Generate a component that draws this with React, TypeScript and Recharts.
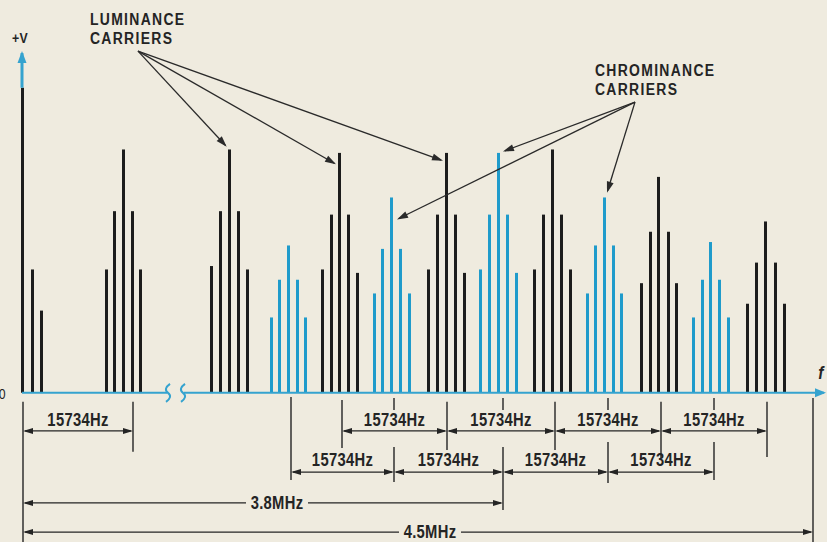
import React from "react";
import { ComposedChart, Bar, Cell, XAxis, YAxis, ReferenceLine, ReferenceDot } from "recharts";

// carrier positions along the frequency axis (arbitrary units) and amplitudes (% of axis height)
const lumaFreq = [0, 10, 19, 84, 92, 101, 110, 118, 189, 198, 207, 216, 225, 300, 309, 317, 326, 335, 406, 415, 424, 433, 442, 512, 521, 530, 539, 548, 619, 628, 636, 646, 654, 725, 734, 743, 753, 762];
const lumaAmp = [89, 36, 24, 36, 53, 71, 53, 36, 37, 53, 71, 53, 36, 36, 52, 70, 52, 35, 36, 52, 70, 52, 35, 36, 52, 71, 52, 36, 32, 47, 63, 47, 32, 26, 38, 50, 38, 26];
const chromaFreq = [249, 257, 266, 275, 283, 352, 360, 369, 378, 387, 458, 467, 476, 485, 494, 565, 573, 582, 591, 599, 671, 680, 688, 697, 706];
const chromaAmp = [22, 33, 43, 33, 22, 29, 42, 57, 42, 29, 36, 52, 70, 52, 35, 29, 43, 57, 43, 29, 22, 33, 44, 33, 22];

// dimension marks (group centres) and labels
const lineRate = "15734Hz";
const firstSpan = [1, 111];
const lumaMarks = [320, 425, 533, 639, 745];
const chromaMarks = [269, 372, 481, 586, 692];
const mhzSpans = [
  { label: "3.8MHz", from: 1, to: 481 },
  { label: "4.5MHz", from: 1, to: 791 },
];

const BG = "#efebdf";
const INK = "#242424";
const BLACK = "#1c1c1c";
const BLUE = "#1f9bcb";
const AXIS = "#35a3cf";
const FONT = "'Liberation Sans', Arial, sans-serif";

const rows = [
  ...lumaFreq.map((f, i) => ({ f, amp: lumaAmp[i], color: BLACK })),
  ...chromaFreq.map((f, i) => ({ f, amp: chromaAmp[i], color: BLUE })),
].sort((a, b) => a.f - b.f);

const arrow = (color: string, width: number, head: number, hw: number, start: boolean, end: boolean) => (p: any) => {
  const { x1, y1, x2, y2 } = p;
  const dx = x2 - x1, dy = y2 - y1;
  const len = Math.hypot(dx, dy) || 1;
  const ux = dx / len, uy = dy / len;
  const tri = (tx: number, ty: number, dx0: number, dy0: number) => {
    const bx = tx - dx0 * head, by = ty - dy0 * head;
    return `${tx},${ty} ${bx - dy0 * hw},${by + dx0 * hw} ${bx + dy0 * hw},${by - dx0 * hw}`;
  };
  return (
    <g>
      <line x1={x1 + (start ? ux * 2 : 0)} y1={y1 + (start ? uy * 2 : 0)} x2={x2 - (end ? ux * 2 : 0)} y2={y2 - (end ? uy * 2 : 0)} stroke={color} strokeWidth={width} />
      {start && <polygon points={tri(x1, y1, -ux, -uy)} fill={color} />}
      {end && <polygon points={tri(x2, y2, ux, uy)} fill={color} />}
    </g>
  );
};

// condensed-looking label: Liberation Sans squeezed horizontally
const note = (text: string, size: number, anchor: string, opts: any = {}) => (p: any) => (
  <g>
    {opts.mask && <rect x={p.cx - opts.mask / 2} y={p.cy - 9} width={opts.mask} height={18} fill={BG} />}
    <text transform={`translate(${p.cx},${p.cy + (opts.mask ? 6 : 0)}) scale(0.82,1)`} textAnchor={anchor}
      fontFamily={FONT} fontSize={size} fontWeight={opts.weight ?? 700}
      fontStyle={opts.italic ? "italic" : "normal"} letterSpacing={opts.ls ?? 0.4} fill={INK}>{text}</text>
  </g>
);

const squiggle = (p: any) => (
  <path d={`M${p.cx + 2},${p.cy - 9} Q${p.cx - 5},${p.cy - 4} ${p.cx},${p.cy} Q${p.cx + 5},${p.cy + 4} ${p.cx - 2},${p.cy + 9}`}
    fill="none" stroke={AXIS} strokeWidth={2} />
);

const seg = (x1: number, y1: number, x2: number, y2: number) => [{ x: x1, y: y1 }, { x: x2, y: y2 }] as any;

export default function App() {
  const ROW1 = -11.1, ROW3 = -23.1, ROW4 = -32.1, ROW5 = -40.6;
  const LAB1 = -9.6, LAB3 = -21.3;
  const ticks = [
    [1, -2.6, -43.5], [111, -2.6, -17.2],
    [320, -2.1, -16.1], [425, -2.6, -16.7], [533, -2.6, -16.7], [639, -2.6, -19.0], [745, -2.6, -18.7],
    [269, -1.2, -25.4],
    [372, -1.5, -5.0], [372, -15.8, -26.0],
    [481, -1.5, -5.0], [481, -15.8, -34.2],
    [586, -1.5, -5.0], [586, -14.3, -26.3],
    [692, -1.5, -5.0], [692, -14.3, -25.4],
    [791, -1.5, -43.5],
  ];
  const dim = arrow(INK, 1.3, 10, 3, true, true);
  const lead = arrow("#2a2a2a", 1.3, 11, 3.5, false, true);
  const mhzLabelAt = [255, 408];

  return (
    <div style={{ position: "absolute", left: 0, top: 0, width: 827, height: 542, background: BG }}>
      <ComposedChart width={827} height={542} data={rows} margin={{ top: 0, right: 0, bottom: 0, left: 0 }}>
        <XAxis dataKey="f" type="number" domain={[-22, 805]} allowDataOverflow hide />
        <YAxis type="number" domain={[-43.5, 114.6]} allowDataOverflow hide />

        {/* axes (the vertical axis shows above the first carrier) */}
        <ReferenceLine segment={seg(0, lumaAmp[0], 0, 99.7)} shape={arrow(AXIS, 3, 12, 4.5, false, true)} />
        <ReferenceLine segment={seg(0, 0, 145, 0)} shape={arrow(AXIS, 2, 10, 4, false, false)} />
        <ReferenceLine segment={seg(162, 0, 804, 0)} shape={arrow(AXIS, 2, 11, 4.5, false, true)} />
        <ReferenceDot x={146} y={0} r={0} shape={squiggle} />
        <ReferenceDot x={161} y={0} r={0} shape={squiggle} />

        <Bar dataKey="amp" barSize={3} isAnimationActive={false}>
          {rows.map((r, i) => <Cell key={i} fill={r.color} />)}
        </Bar>

        {/* dimension ticks */}
        {ticks.map(([x, a, b], i) => (
          <ReferenceLine key={"t" + i} segment={seg(x, a, x, b)} stroke={INK} strokeWidth={1.4} />
        ))}

        {/* 15734Hz spans */}
        <ReferenceLine segment={seg(firstSpan[0], ROW1, firstSpan[1], ROW1)} shape={dim} />
        <ReferenceDot x={(firstSpan[0] + firstSpan[1]) / 2} y={LAB1} r={0} shape={note(lineRate, 18, "middle")} />
        {lumaMarks.slice(1).map((m, i) => (
          <React.Fragment key={"l" + i}>
            <ReferenceLine segment={seg(lumaMarks[i], ROW1, m, ROW1)} shape={dim} />
            <ReferenceDot x={(lumaMarks[i] + m) / 2} y={LAB1} r={0} shape={note(lineRate, 18, "middle")} />
          </React.Fragment>
        ))}
        {chromaMarks.slice(1).map((m, i) => (
          <React.Fragment key={"c" + i}>
            <ReferenceLine segment={seg(chromaMarks[i], ROW3, m, ROW3)} shape={dim} />
            <ReferenceDot x={(chromaMarks[i] + m) / 2} y={LAB3} r={0} shape={note(lineRate, 18, "middle")} />
          </React.Fragment>
        ))}

        {/* MHz spans */}
        {mhzSpans.map((s, i) => {
          const row = i === 0 ? ROW4 : ROW5;
          return (
            <React.Fragment key={"m" + i}>
              <ReferenceLine segment={seg(s.from, row, s.to, row)} shape={dim} />
              <ReferenceDot x={mhzLabelAt[i]} y={row} r={0} shape={note(s.label, 18, "middle", { mask: 62 })} />
            </React.Fragment>
          );
        })}

        {/* leaders */}
        <ReferenceLine segment={seg(116, 99.7, 204.7, 71.8)} shape={lead} />
        <ReferenceLine segment={seg(116, 99.7, 314, 66.7)} shape={lead} />
        <ReferenceLine segment={seg(116, 99.7, 421, 67.7)} shape={lead} />
        <ReferenceLine segment={seg(613, 84.8, 481, 70.4)} shape={lead} />
        <ReferenceLine segment={seg(613, 84.8, 375, 50.6)} shape={lead} />
        <ReferenceLine segment={seg(613, 84.8, 585, 58.4)} shape={lead} />

        {/* labels */}
        <ReferenceDot x={-2} y={102.1} r={0} shape={note("+V", 15, "middle")} />
        <ReferenceDot x={-16} y={-1.8} r={0} shape={note("0", 15, "end", { weight: 400 })} />
        <ReferenceDot x={799} y={4.1} r={0} shape={note("f", 19, "middle", { italic: true })} />
        <ReferenceDot x={68} y={107.3} r={0} shape={note("LUMINANCE", 17, "start", { ls: 1.6, weight: 600 })} />
        <ReferenceDot x={68} y={101.8} r={0} shape={note("CARRIERS", 17, "start", { ls: 1.6, weight: 600 })} />
        <ReferenceDot x={573} y={92.4} r={0} shape={note("CHROMINANCE", 17, "start", { ls: 1.6, weight: 600 })} />
        <ReferenceDot x={573} y={86.9} r={0} shape={note("CARRIERS", 17, "start", { ls: 1.6, weight: 600 })} />
      </ComposedChart>
    </div>
  );
}
